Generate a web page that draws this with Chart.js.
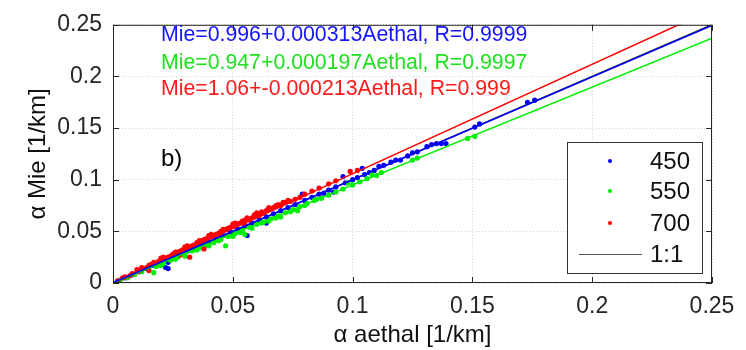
<!DOCTYPE html>
<html>
<head>
<meta charset="utf-8">
<script src="https://cdn.jsdelivr.net/npm/chart.js@4.4.0/dist/chart.umd.min.js"></script>
<style>
html, body { margin: 0; padding: 0; background: #fff; }
#wrap { width: 746px; height: 350px; }
</style>
</head>
<body>
<div id="wrap"><canvas id="scatterChart"></canvas></div>
<script>
// ─── Data ─────────────────────────────────────────────
const seriesNames = ['450', '550', '700'];
const slopes = [0.996, 0.947, 1.06];
const intercepts = [0.000313, 0.000197, -0.000213];
const rValues = ['0.9999', '0.9997', '0.999'];
const tickValues = [0, 0.05, 0.1, 0.15, 0.2, 0.25];
const tickLabels = ['0', '0.05', '0.1', '0.15', '0.2', '0.25'];

const blueX = [0.002, 0.005, 0.008, 0.011, 0.014, 0.017, 0.020, 0.022, 0.023, 0.023, 0.025, 0.028, 0.031,
    0.034, 0.037, 0.040, 0.043, 0.046, 0.049, 0.052, 0.055, 0.056, 0.058, 0.061, 0.064, 0.064, 0.067, 0.070,
    0.073, 0.076, 0.079, 0.080, 0.083, 0.086, 0.088, 0.090, 0.092, 0.093, 0.096, 0.097, 0.100, 0.102, 0.104,
    0.105, 0.107, 0.109, 0.111, 0.113, 0.116, 0.118, 0.120, 0.123, 0.125, 0.127, 0.131, 0.133, 0.135, 0.137,
    0.139, 0.151, 0.153, 0.173, 0.176];
const blueY = [0.002, 0.005, 0.008, 0.011, 0.014, 0.017, 0.020, 0.015, 0.014, 0.020, 0.025, 0.028, 0.031,
    0.034, 0.037, 0.040, 0.043, 0.046, 0.049, 0.052, 0.055, 0.046, 0.058, 0.061, 0.058, 0.064, 0.067, 0.070,
    0.073, 0.076, 0.086, 0.080, 0.083, 0.086, 0.087, 0.090, 0.088, 0.093, 0.103, 0.097, 0.100, 0.102, 0.111,
    0.105, 0.107, 0.109, 0.113, 0.114, 0.117, 0.119, 0.119, 0.123, 0.126, 0.127, 0.132, 0.134, 0.135, 0.135,
    0.135, 0.151, 0.154, 0.175, 0.177];

const greenX = [0.003, 0.006, 0.009, 0.012, 0.015, 0.017, 0.018, 0.020, 0.021, 0.024, 0.026, 0.027, 0.030,
    0.030, 0.033, 0.035, 0.036, 0.039, 0.040, 0.042, 0.044, 0.045, 0.047, 0.048, 0.050, 0.051, 0.053, 0.054,
    0.055, 0.057, 0.058, 0.060, 0.062, 0.063, 0.065, 0.066, 0.068, 0.069, 0.070, 0.072, 0.074, 0.075, 0.077,
    0.078, 0.080, 0.081, 0.084, 0.085, 0.087, 0.090, 0.093, 0.096, 0.098, 0.100, 0.103, 0.106, 0.108, 0.110,
    0.112, 0.125, 0.127, 0.148, 0.151];
const greenY = [0.003, 0.005, 0.008, 0.011, 0.014, 0.010, 0.016, 0.017, 0.019, 0.022, 0.023, 0.025, 0.028,
    0.026, 0.031, 0.032, 0.034, 0.037, 0.036, 0.039, 0.041, 0.042, 0.036, 0.045, 0.045, 0.048, 0.049, 0.051,
    0.047, 0.054, 0.053, 0.057, 0.058, 0.059, 0.060, 0.062, 0.063, 0.065, 0.064, 0.068, 0.069, 0.071, 0.070,
    0.074, 0.075, 0.077, 0.080, 0.081, 0.082, 0.085, 0.088, 0.091, 0.097, 0.095, 0.098, 0.101, 0.105, 0.104,
    0.107, 0.119, 0.121, 0.140, 0.142];

const redX = [0.002, 0.004, 0.005, 0.007, 0.008, 0.010, 0.010, 0.011, 0.012, 0.012, 0.014, 0.015, 0.015,
    0.016, 0.017, 0.018, 0.019, 0.020, 0.020, 0.021, 0.022, 0.023, 0.024, 0.025, 0.026, 0.026, 0.027, 0.028,
    0.028, 0.029, 0.030, 0.030, 0.031, 0.031, 0.032, 0.032, 0.033, 0.034, 0.035, 0.036, 0.036, 0.037, 0.038,
    0.038, 0.039, 0.040, 0.040, 0.041, 0.041, 0.042, 0.043, 0.044, 0.045, 0.045, 0.046, 0.046, 0.047, 0.048,
    0.049, 0.050, 0.050, 0.051, 0.051, 0.052, 0.053, 0.054, 0.055, 0.055, 0.056, 0.056, 0.057, 0.058, 0.059,
    0.059, 0.060, 0.060, 0.061, 0.062, 0.062, 0.063, 0.064, 0.065, 0.065, 0.066, 0.067, 0.068, 0.068, 0.069,
    0.070, 0.071, 0.072, 0.073, 0.074, 0.076, 0.078, 0.080, 0.083, 0.086, 0.090, 0.093, 0.099, 0.102];
const redY = [0.002, 0.005, 0.006, 0.007, 0.009, 0.011, 0.013, 0.012, 0.013, 0.015, 0.015, 0.017, 0.012,
    0.018, 0.020, 0.019, 0.021, 0.022, 0.024, 0.025, 0.024, 0.025, 0.026, 0.028, 0.029, 0.030, 0.030, 0.031,
    0.027, 0.032, 0.033, 0.035, 0.034, 0.036, 0.035, 0.025, 0.036, 0.037, 0.039, 0.040, 0.041, 0.041, 0.042,
    0.033, 0.043, 0.044, 0.046, 0.045, 0.047, 0.046, 0.047, 0.048, 0.050, 0.047, 0.051, 0.052, 0.052, 0.053,
    0.054, 0.055, 0.057, 0.056, 0.058, 0.057, 0.058, 0.060, 0.061, 0.057, 0.062, 0.063, 0.061, 0.063, 0.064,
    0.066, 0.066, 0.068, 0.065, 0.067, 0.069, 0.068, 0.070, 0.073, 0.071, 0.072, 0.073, 0.075, 0.074, 0.076,
    0.075, 0.078, 0.078, 0.080, 0.079, 0.081, 0.083, 0.086, 0.089, 0.092, 0.096, 0.099, 0.108, 0.109];

const colors = ['#0000ff', '#00ee00', '#ff0000'];
const textColors = ['#1515ff', '#1fe01f', '#ff1a1a'];
const FONT = '"Liberation Sans", Arial, Helvetica, sans-serif';

const toPoints = (xs, ys) => xs.map((x, i) => ({ x: x, y: ys[i] }));
const fitLine = k => [0, 0.25].map(x => ({ x: x, y: slopes[k] * x + intercepts[k] }));

// ─── Plugin: box, inward ticks, equations, legend ─────
const matlabDecor = {
    id: 'matlabDecor',
    afterDraw(chart) {
        const { ctx, chartArea: a, scales: { x, y } } = chart;
        ctx.save();

        // axes box
        ctx.strokeStyle = '#262626';
        ctx.lineWidth = 1;
        ctx.strokeRect(a.left + 0.5, a.top + 0.5, a.right - a.left - 1, a.bottom - a.top - 1);

        // inward ticks on all four sides
        const tl = 6;
        ctx.beginPath();
        tickValues.forEach(v => {
            const px = Math.round(x.getPixelForValue(v)) + 0.5;
            const py = Math.round(y.getPixelForValue(v)) + 0.5;
            ctx.moveTo(px, a.bottom); ctx.lineTo(px, a.bottom - tl);
            ctx.moveTo(px, a.top); ctx.lineTo(px, a.top + tl);
            ctx.moveTo(a.left, py); ctx.lineTo(a.left + tl, py);
            ctx.moveTo(a.right, py); ctx.lineTo(a.right - tl, py);
        });
        ctx.stroke();

        // fit equations
        ctx.font = '21.3px ' + FONT;
        ctx.textAlign = 'left';
        ctx.textBaseline = 'alphabetic';
        const eqY = [0.234, 0.2075, 0.182];
        seriesNames.forEach((n, k) => {
            ctx.fillStyle = textColors[k];
            const txt = 'Mie=' + slopes[k] + '+' + intercepts[k] + 'Aethal, R=' + rValues[k];
            ctx.fillText(txt, x.getPixelForValue(0.02), y.getPixelForValue(eqY[k]));
        });

        // panel label
        ctx.fillStyle = '#000';
        ctx.font = '24px ' + FONT;
        ctx.fillText('b)', x.getPixelForValue(0.02), y.getPixelForValue(0.113));

        // legend box
        const bw = 135, bh = 131;
        const bx = a.right - 10 - bw, by = a.bottom - 10 - bh;
        ctx.fillStyle = '#fff';
        ctx.fillRect(bx, by, bw, bh);
        ctx.strokeStyle = '#333';
        ctx.strokeRect(bx + 0.5, by + 0.5, bw, bh);

        ctx.font = '24px ' + FONT;
        ctx.textBaseline = 'middle';
        const rows = [19, 49, 81, 112];
        seriesNames.forEach((n, k) => {
            ctx.fillStyle = colors[k];
            ctx.beginPath();
            ctx.arc(bx + 43, by + rows[k], 2, 0, Math.PI * 2);
            ctx.fill();
            ctx.fillStyle = '#111';
            ctx.fillText(n, bx + 83, by + rows[k] + 1);
        });
        ctx.strokeStyle = '#555';
        ctx.beginPath();
        ctx.moveTo(bx + 12, by + rows[3] + 0.5);
        ctx.lineTo(bx + 75, by + rows[3] + 0.5);
        ctx.stroke();
        ctx.fillStyle = '#111';
        ctx.fillText('1:1', bx + 83, by + rows[3] + 1);

        ctx.restore();
    }
};

const pointSet = (k, xs, ys, order) => ({
    label: seriesNames[k],
    data: toPoints(xs, ys),
    backgroundColor: colors[k],
    borderWidth: 0,
    pointRadius: 2.6,
    order: order
});

const lineSet = (label, data, color, order) => ({
    label: label,
    data: data,
    showLine: true,
    borderColor: color,
    borderWidth: 1.5,
    pointRadius: 0,
    order: order
});

const axisCommon = {
    type: 'linear',
    min: 0,
    max: 0.25,
    afterBuildTicks: s => { s.ticks = tickValues.map(v => ({ value: v })); },
    ticks: {
        font: { size: 23, family: FONT },
        color: '#262626',
        callback: (v, i) => tickLabels[i]
    },
    grid: { color: '#d6d6d6', lineWidth: 1, drawTicks: false },
    border: { display: false, dash: [1, 2] }
};

new Chart(document.getElementById('scatterChart'), {
    type: 'scatter',
    data: {
        datasets: [
            lineSet('1:1', [{ x: 0, y: 0 }, { x: 0.25, y: 0.25 }], '#333', 4),
            lineSet('fit 450', fitLine(0), colors[0], 1),
            lineSet('fit 550', fitLine(1), colors[1], 2),
            lineSet('fit 700', fitLine(2), colors[2], 3),
            pointSet(2, redX, redY, 5),
            pointSet(1, greenX, greenY, 6),
            pointSet(0, blueX, blueY, 7)
        ]
    },
    options: {
        responsive: true,
        maintainAspectRatio: false,
        animation: false,
        layout: { padding: { top: 18, right: 34, left: 0, bottom: 0 } },
        plugins: { legend: { display: false }, tooltip: { enabled: false } },
        scales: {
            x: Object.assign({}, axisCommon, {
                afterFit: s => { s.height = 67; },
                ticks: Object.assign({}, axisCommon.ticks, { padding: 10, maxRotation: 0 }),
                title: {
                    display: true,
                    text: 'α aethal [1/km]',
                    font: { size: 24, family: FONT },
                    color: '#111',
                    padding: { top: 0, bottom: 0 }
                }
            }),
            y: Object.assign({}, axisCommon, {
                afterFit: s => { s.width = 113; },
                ticks: Object.assign({}, axisCommon.ticks, { padding: 11 }),
                title: {
                    display: true,
                    text: 'α Mie [1/km]',
                    font: { size: 24, family: FONT },
                    color: '#111',
                    padding: { top: 24, bottom: 0 }
                }
            })
        }
    },
    plugins: [matlabDecor]
});
</script>
</body>
</html>
